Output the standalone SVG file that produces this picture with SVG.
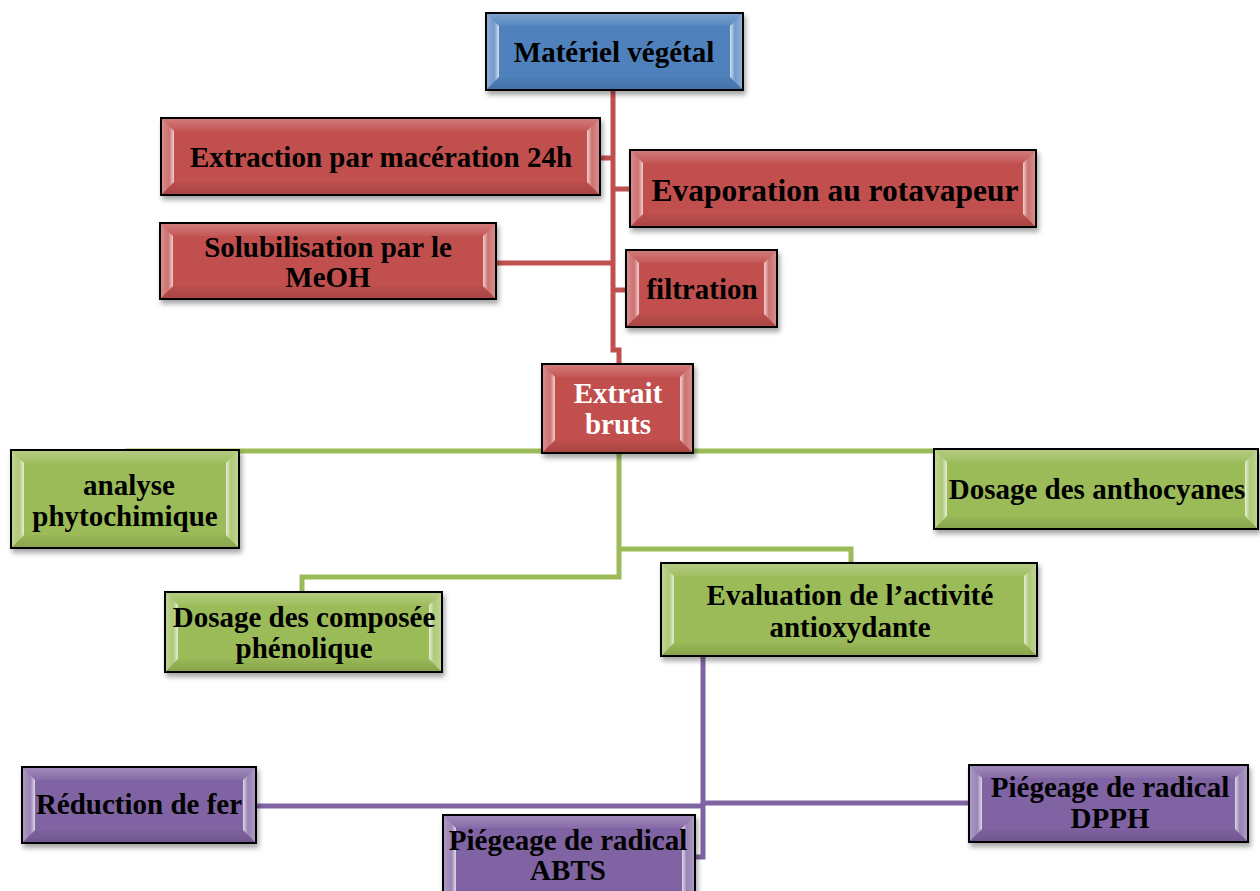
<svg xmlns="http://www.w3.org/2000/svg" width="1260" height="891" viewBox="0 0 1260 891">
<defs>
<filter id="sh" x="-10%" y="-10%" width="120%" height="130%">
<feDropShadow dx="2" dy="4" stdDeviation="2.5" flood-color="#000" flood-opacity="0.35"/>
</filter>
<linearGradient id="bl" x1="0" y1="0" x2="1" y2="0">
<stop offset="0" stop-color="#fff" stop-opacity="0.35"/>
<stop offset="0.6" stop-color="#fff" stop-opacity="0.2"/>
<stop offset="1" stop-color="#fff" stop-opacity="0.75"/>
</linearGradient>
<linearGradient id="br" x1="1" y1="0" x2="0" y2="0">
<stop offset="0" stop-color="#fff" stop-opacity="0.35"/>
<stop offset="0.6" stop-color="#fff" stop-opacity="0.2"/>
<stop offset="1" stop-color="#fff" stop-opacity="0.75"/>
</linearGradient>
<linearGradient id="bt" x1="0" y1="0" x2="0" y2="1">
<stop offset="0" stop-color="#fff" stop-opacity="0.25"/>
<stop offset="1" stop-color="#fff" stop-opacity="0.05"/>
</linearGradient>
<linearGradient id="bb" x1="0" y1="1" x2="0" y2="0">
<stop offset="0" stop-color="#000" stop-opacity="0.12"/>
<stop offset="1" stop-color="#000" stop-opacity="0.02"/>
</linearGradient>
</defs>
<style>
.box{stroke:#000;stroke-width:2;filter:url(#sh)}
.blue{fill:#4F81BD}.red{fill:#C0504D}.green{fill:#9BBB59}.purple{fill:#8064A2}
.bl{fill:url(#bl)}.br{fill:url(#br)}.bt{fill:url(#bt)}.bb{fill:url(#bb)}
text{font-family:"Liberation Serif","Times New Roman",serif;font-weight:bold;font-size:29px;fill:#000;text-anchor:middle}
.w{fill:#fff}
.cr,.cg,.cp{fill:none;stroke-width:5}
.cr{stroke:#C0504D}.cg{stroke:#9BBB59}.cp{stroke:#8064A2}
</style>
<g id="connectors">
<path class="cr" d="M613,90 V350 H619 V364 M600,158 H613 M613,189 H630 M496,263 H613 M613,290 H626"/>
<path class="cg" d="M125,451 H1000 M619,453 V549 H851 V563 M619,549 V577 H302 V592"/>
<path class="cp" d="M703,656 V857 H694 M256,806 H703 M703,803 H969"/>
</g>
<g id="n-materiel">
<rect class="box blue" x="486" y="13" width="257" height="77"/>
<polygon class="bt" points="487,14 742,14 730,26 499,26"/><polygon class="bb" points="487,89 742,89 730,77 499,77"/>
<polygon class="bl" points="487,14 499,26 499,77 487,89"/><polygon class="br" points="742,14 730,26 730,77 742,89"/>
<text x="614" y="62">Matériel végétal</text>
</g>
<g id="n-extraction">
<rect class="box red" x="161" y="118" width="439" height="77"/>
<polygon class="bt" points="162,119 599,119 587,131 174,131"/><polygon class="bb" points="162,194 599,194 587,182 174,182"/>
<polygon class="bl" points="162,119 174,131 174,182 162,194"/><polygon class="br" points="599,119 587,131 587,182 599,194"/>
<text x="381" y="167">Extraction par macération 24h</text>
</g>
<g id="n-evaporation">
<rect class="box red" x="630" y="150" width="406" height="77"/>
<polygon class="bt" points="631,151 1035,151 1023,163 643,163"/><polygon class="bb" points="631,226 1035,226 1023,214 643,214"/>
<polygon class="bl" points="631,151 643,163 643,214 631,226"/><polygon class="br" points="1035,151 1023,163 1023,214 1035,226"/>
<text x="835" y="201" style="font-size:31.5px">Evaporation au rotavapeur</text>
</g>
<g id="n-solubilisation">
<rect class="box red" x="160" y="223" width="336" height="76"/>
<polygon class="bt" points="161,224 495,224 483,236 173,236"/><polygon class="bb" points="161,298 495,298 483,286 173,286"/>
<polygon class="bl" points="161,224 173,236 173,286 161,298"/><polygon class="br" points="495,224 483,236 483,286 495,298"/>
<text x="328" y="257">Solubilisation par le</text>
<text x="328" y="287">MeOH</text>
</g>
<g id="n-filtration">
<rect class="box red" x="626" y="250" width="151" height="77"/>
<polygon class="bt" points="627,251 776,251 764,263 639,263"/><polygon class="bb" points="627,326 776,326 764,314 639,314"/>
<polygon class="bl" points="627,251 639,263 639,314 627,326"/><polygon class="br" points="776,251 764,263 764,314 776,326"/>
<text x="702" y="299">filtration</text>
</g>
<g id="n-extrait">
<rect class="box red" x="542" y="364" width="151" height="89"/>
<polygon class="bt" points="543,365 692,365 680,377 555,377"/><polygon class="bb" points="543,452 692,452 680,440 555,440"/>
<polygon class="bl" points="543,365 555,377 555,440 543,452"/><polygon class="br" points="692,365 680,377 680,440 692,452"/>
<text class="w" x="618" y="403">Extrait</text>
<text class="w" x="618" y="434">bruts</text>
</g>
<g id="n-analyse">
<rect class="box green" x="11" y="450" width="228" height="98"/>
<polygon class="bt" points="12,451 238,451 226,463 24,463"/><polygon class="bb" points="12,547 238,547 226,535 24,535"/>
<polygon class="bl" points="12,451 24,463 24,535 12,547"/><polygon class="br" points="238,451 226,463 226,535 238,547"/>
<text x="129" y="495">analyse</text>
<text x="125" y="526">phytochimique</text>
</g>
<g id="n-anthocyanes">
<rect class="box green" x="934" y="449" width="324" height="80"/>
<polygon class="bt" points="935,450 1257,450 1245,462 947,462"/><polygon class="bb" points="935,528 1257,528 1245,516 947,516"/>
<polygon class="bl" points="935,450 947,462 947,516 935,528"/><polygon class="br" points="1257,450 1245,462 1245,516 1257,528"/>
<text x="1097" y="499">Dosage des anthocyanes</text>
</g>
<g id="n-phenolique">
<rect class="box green" x="165" y="592" width="277" height="80"/>
<polygon class="bt" points="166,593 441,593 429,605 178,605"/><polygon class="bb" points="166,671 441,671 429,659 178,659"/>
<polygon class="bl" points="166,593 178,605 178,659 166,671"/><polygon class="br" points="441,593 429,605 429,659 441,671"/>
<text x="304" y="627">Dosage des composée</text>
<text x="304" y="658">phénolique</text>
</g>
<g id="n-evaluation">
<rect class="box green" x="661" y="563" width="376" height="93"/>
<polygon class="bt" points="662,564 1036,564 1024,576 674,576"/><polygon class="bb" points="662,655 1036,655 1024,643 674,643"/>
<polygon class="bl" points="662,564 674,576 674,643 662,655"/><polygon class="br" points="1036,564 1024,576 1024,643 1036,655"/>
<text x="850" y="605">Evaluation de l’activité</text>
<text x="850" y="637">antioxydante</text>
</g>
<g id="n-reduction">
<rect class="box purple" x="22" y="767" width="234" height="76"/>
<polygon class="bt" points="23,768 255,768 243,780 35,780"/><polygon class="bb" points="23,842 255,842 243,830 35,830"/>
<polygon class="bl" points="23,768 35,780 35,830 23,842"/><polygon class="br" points="255,768 243,780 243,830 255,842"/>
<text x="139" y="814">Réduction de fer</text>
</g>
<g id="n-dpph">
<rect class="box purple" x="969" y="765" width="279" height="77"/>
<polygon class="bt" points="970,766 1247,766 1235,778 982,778"/><polygon class="bb" points="970,841 1247,841 1235,829 982,829"/>
<polygon class="bl" points="970,766 982,778 982,829 970,841"/><polygon class="br" points="1247,766 1235,778 1235,829 1247,841"/>
<text x="1110" y="797">Piégeage de radical</text>
<text x="1110" y="828">DPPH</text>
</g>
<g id="n-abts">
<rect class="box purple" x="443" y="815" width="252" height="82"/>
<polygon class="bt" points="444,816 694,816 682,828 456,828"/>
<polygon class="bl" points="444,816 456,828 456,896 444,896"/><polygon class="br" points="694,816 682,828 682,896 694,896"/>
<text x="568" y="850">Piégeage de radical</text>
<text x="568" y="880">ABTS</text>
</g>
</svg>
